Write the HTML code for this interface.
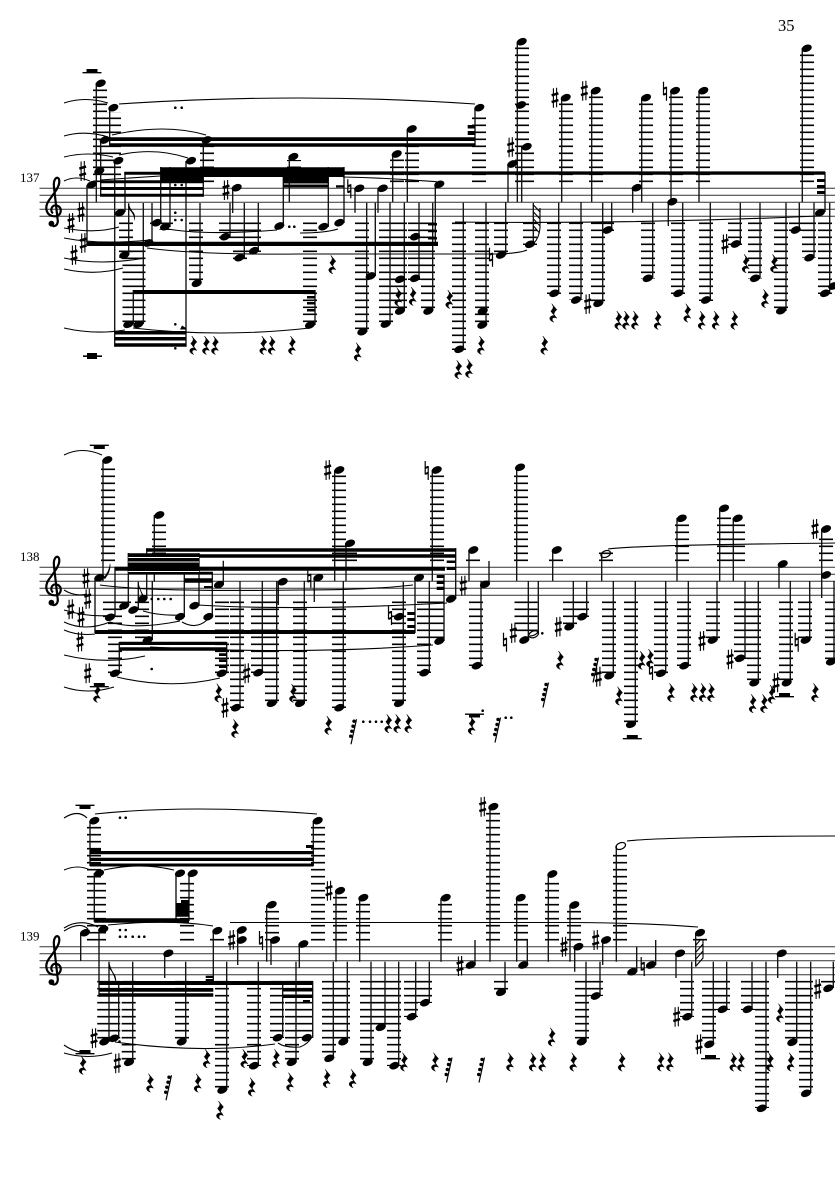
<!DOCTYPE html>
<html><head><meta charset="utf-8"><style>
html,body{margin:0;padding:0;background:#fff}
svg{display:block}
.st{stroke:#333;stroke-width:1;fill:none}
.s{stroke:#111;stroke-width:1.35;fill:none}
.l{stroke:#000;stroke-width:14;stroke-dasharray:1.6 5.4;fill:none}
.w{stroke:#000;stroke-width:23;stroke-dasharray:1.6 5.4;fill:none}
.c{stroke:#000;stroke-width:1.1;fill:none}
text{font-family:"Liberation Serif",serif;fill:#000}
</style></head><body>
<svg width="835" height="1181" viewBox="0 0 835 1181" xmlns="http://www.w3.org/2000/svg">
<defs>
<ellipse id="n" cx="0" cy="0" rx="5.3" ry="3.5" transform="rotate(-22)"/>
<g id="h"><ellipse cx="0" cy="0" rx="5" ry="3.2" transform="rotate(-22)" fill="none" stroke="#000" stroke-width="1.2"/></g>
<path id="r" stroke="#000" stroke-width=".5" d="M-1.5-9L3.5-3Q1-1 .5 1.5L3.5 5.5Q0 4-1 6Q-1.5 8 .5 9.5Q-4 8-3.5 5Q-2 2.5 1 3L-2.5-1.5Q0-4 0-6Z"/>
<g id="x" stroke="#000" fill="none"><path d="M-1.6-9.5V10M1.6-10V9.5" stroke-width="1.1"/><path d="M-3.4-2.4L3.4-4.4M-3.4 4.4L3.4 2.4" stroke-width="2.5"/></g>
<g id="t" stroke="#000" fill="none"><path d="M-1.5-9V4.5M1.5-4V10" stroke-width="1.2"/><path d="M-1.5-2L1.5-3.2M-1.5 4L1.5 2.8" stroke-width="2"/></g>
<g id="q"><path d="M3.5-12.5L-2 12.5" stroke="#000" stroke-width="1.2" fill="none"/><circle cx="1" cy="-10.5" r="1.7"/><circle cx="0" cy="-5.5" r="1.7"/><circle cx="-1.2" cy="-.5" r="1.7"/><circle cx="-2.3" cy="4.5" r="1.7"/></g>
<g id="c"><path d="M-3 15C0 19 5 16 3.5 9L0-22C-1-30 3-34 5-30C7-24 0-16-5-9C-10-2-8 7 1 7C8 7 9-3 2-4C-3-4-4 2-1 4" fill="none" stroke="#000" stroke-width="2.2"/><circle cx="-2.6" cy="14.4" r="2.9"/></g>
<path id="v" d="M-9.5 0H9.5V1.4H-9.5ZM-5.5-3H5.5V0H-5.5Z"/>
</defs>
<rect width="835" height="1181" fill="#fff"/>
<text x="778" y="31" font-size="16.5">35</text>
<text x="20" y="182" font-size="13">137</text>
<text x="20" y="561" font-size="13">138</text>
<text x="20" y="940.5" font-size="13">139</text>

<path class="st" d="M39.5 188.3H835M39.5 195.3H835M39.5 202.3H835M39.5 209.3H835M39.5 216.3H835M39.5 567.3H835M39.5 574.3H835M39.5 581.3H835M39.5 588.3H835M39.5 595.3H835M39.5 946.7H835M39.5 953.7H835M39.5 960.7H835M39.5 967.7H835M39.5 974.7H835"/>
<use href="#c" x="54" y="209.3"/><use href="#c" x="54" y="588.3"/><use href="#c" x="54" y="967.7"/>

<!-- STAFF 1 -->
<path class="l" d="M100 182.1V88M114 182.1V112M207 182.1V145M294 182.1V160M397 182.1V158M412 182.1V134M479 182.1V113M522 182.1V47M527 182.1V150M566 182.1V102M596 182.1V95M646 182.1V102M676 182.1V95M703 182.1V95M807 182.1V53"/>
<path class="l" d="M126 222.5V258M157 222.5V228M166 222.5V230M196 222.5V284M226 222.5V240M240 222.5V260M254 222.5V252M310 222.5V325M362 222.5V332M386 222.5V325M400 222.5V312M415 222.5V280M428 222.5V312M459 222.5V350M482 222.5V326M501 222.5V256M530 222.5V245M554 222.5V294M576 222.5V300M598 222.5V304M607 222.5V231M648 222.5V279M678 222.5V294M706 222.5V301M735 222.5V245M755 222.5V279M781 222.5V311M796 222.5V231M809 222.5V258M825 222.5V294"/>
<path class="w" d="M134 250.5V325"/>
<path class="s" d="M96.3 83V202.3M109.7 108V146M100.7 140V196M114.7 161V346.7M87 185V245M125 212V172M128.7 255V203.3M133.3 324V290M143.3 324V203M152 243V203M160.7 223V167M170 227V167M186 161V346.7M200 283V203M203.3 140V196.7M230 237V203M232.7 188V213M244.3 258V203M258.3 251V203M283.3 226V177M289.3 157V202.3M315 325V290M328.3 227V167M344 223V167M355 188V212.7M378 188V212.7M375.3 276V202.7M366.7 332V202.7M390 324V202.7M392.7 154V202M407.3 129V202M404.3 311V202.7M419 278V202.7M432.7 311V202.7M435.3 184V246M475 108V146.7M517.3 42V202M521.7 147V202M508 164V202M561.7 98V202M463.3 349V202.7M486 325V202.7M505.7 255V202M533.3 244V203M558.7 293V202.7M581 300V202M591.7 91V202M602.7 303V202.7M611.7 230V202.7M632.7 188V212.7M641.7 98V202M652.7 278V202.7M668.3 202V226M671 91V202M682.7 293V202.7M699 91V202M710.3 300V202.7M740.3 244V202.7M760 278V202.7M786 311V202.7M799.3 230V202.7M802.3 48V202M814 258V202.7M825 172V212M829.7 293V202.7"/>
<path d="M100 180.3H203.3V183.3H100ZM100 187H203.3V190H100ZM100 193.7H203.3V196.7H100ZM124.3 171.7H160.7V174.7H124.3ZM160.7 167.3H344.3V177H160.7ZM160.7 177H203V180.3H160.7ZM283 177H328.3V180H283ZM283 180H328.3V183.5H283ZM283 184.5H328.3V187.5H283ZM336 185.3H344.3V187.5H336ZM87 241.8H438V246H87ZM428 223H437V225.5H428ZM428 229.7H437V232.2H428ZM428 237H437V239.5H428ZM133.3 290H315V294H133.3ZM307 296H315V298.5H307ZM307 302H315V304.5H307ZM307 309H315V311.5H307ZM109.7 137.3H475V141H109.7ZM109.7 143.3H475V146.7H109.7ZM467.7 125H475V128.5H467.7ZM467.7 131H475V135H467.7ZM344 171.4H825V174.8H344ZM817 179H825V182H817ZM817 185H825V188H817ZM817 191H825V194H817ZM114.7 331H186V334.5H114.7ZM114.7 337H186V340.5H114.7ZM114.7 343.3H186V346.7H114.7ZM180 329.5L182 325.5L186 328V329.5Z"/>
<path d="M128.7 203.3Q130 209 134 213Q136 217 134 221Q135 215 128.7 209Z"/>
<use href="#v" x="92" y="72"/>
<path d="M87 353H97V359H87ZM83 355.4H102V357H83Z"/>
<g>
<use href="#n" x="100.7" y="83.3"/><use href="#n" x="113.3" y="107.7"/><use href="#n" x="104.7" y="140"/><use href="#n" x="118.3" y="160.7"/><use href="#n" x="99.3" y="171"/><use href="#n" x="91.7" y="184.7"/><use href="#n" x="120" y="212.7"/><use href="#n" x="124.3" y="255"/><use href="#n" x="128.3" y="324.3"/><use href="#n" x="138.3" y="324.3"/><use href="#n" x="148.3" y="243"/><use href="#n" x="156.7" y="222.7"/><use href="#n" x="165" y="226.7"/><use href="#n" x="191" y="160.7"/><use href="#n" x="196.7" y="283.3"/><use href="#n" x="206.7" y="140"/><use href="#n" x="225" y="236.7"/><use href="#n" x="236.7" y="187.7"/><use href="#n" x="239.3" y="257.7"/><use href="#n" x="254" y="250.7"/><use href="#n" x="279.3" y="226"/><use href="#n" x="293.3" y="156.7"/><use href="#n" x="310" y="325"/><use href="#n" x="323.3" y="226.7"/><use href="#n" x="339.3" y="222.7"/><use href="#n" x="359.3" y="188.3"/><use href="#n" x="382.7" y="188.3"/><use href="#n" x="370.7" y="276"/><use href="#n" x="362.3" y="331.7"/><use href="#n" x="385.7" y="324"/><use href="#n" x="396.7" y="154"/><use href="#n" x="411.7" y="129"/><use href="#n" x="400" y="279.3"/><use href="#n" x="400" y="311"/><use href="#n" x="415" y="236.7"/><use href="#n" x="415" y="278.3"/><use href="#n" x="428.3" y="311"/><use href="#n" x="439.3" y="184.3"/><use href="#n" x="479.3" y="107.7"/><use href="#n" x="521.7" y="41.7"/><use href="#n" x="521" y="105"/><use href="#n" x="526.7" y="146.7"/><use href="#n" x="512.3" y="164"/><use href="#n" x="565.7" y="97.7"/><use href="#n" x="459.3" y="349.3"/><use href="#n" x="482.7" y="311"/><use href="#n" x="482.3" y="325"/><use href="#n" x="501" y="255"/><use href="#n" x="530" y="244.3"/><use href="#n" x="554.3" y="293.3"/><use href="#n" x="576" y="300"/><use href="#n" x="595.7" y="90.7"/><use href="#n" x="598.3" y="303.3"/><use href="#n" x="607.7" y="230"/><use href="#n" x="636.7" y="187.7"/><use href="#n" x="646" y="97.7"/><use href="#n" x="647.7" y="278.3"/><use href="#n" x="672.3" y="201.7"/><use href="#n" x="675" y="90.7"/><use href="#n" x="678.3" y="293.3"/><use href="#n" x="703.3" y="90.7"/><use href="#n" x="706" y="300"/><use href="#n" x="735.7" y="244"/><use href="#n" x="755" y="278.3"/><use href="#n" x="781" y="310.7"/><use href="#n" x="795.7" y="230"/><use href="#n" x="806.7" y="48.3"/><use href="#n" x="809.3" y="257.7"/><use href="#n" x="820" y="212.7"/><use href="#n" x="825" y="293.3"/><use href="#n" x="833.3" y="286"/>
</g>
<g>
<use href="#x" x="82.7" y="171"/><use href="#x" x="81" y="212"/><use href="#x" x="71" y="223"/><use href="#x" x="83.3" y="243"/><use href="#x" x="74" y="255"/><use href="#x" x="226" y="190"/><use href="#x" x="510.7" y="147.3"/><use href="#x" x="555" y="97.7"/><use href="#x" x="584.3" y="90.7"/><use href="#x" x="587.7" y="304"/><use href="#x" x="725" y="244"/>
<use href="#t" x="349.3" y="188.3"/><use href="#t" x="491" y="256.7"/><use href="#t" x="665" y="90.7"/>
</g>
<g>
<use href="#r" x="193.3" y="345"/><use href="#r" x="206" y="345"/><use href="#r" x="215" y="345"/><use href="#r" x="263.3" y="345"/><use href="#r" x="271.7" y="345"/><use href="#r" x="292" y="345"/><use href="#r" x="332.3" y="264.3"/><use href="#r" x="357.7" y="351.7"/><use href="#r" x="398.3" y="296.7"/><use href="#r" x="412.7" y="296"/><use href="#r" x="449.3" y="299"/><use href="#r" x="458.3" y="369.3"/><use href="#r" x="469" y="368.3"/><use href="#r" x="481" y="345"/><use href="#r" x="544.3" y="345"/><use href="#r" x="553.3" y="312.7"/><use href="#r" x="618.3" y="320"/><use href="#r" x="626" y="320"/><use href="#r" x="635" y="320"/><use href="#r" x="657.7" y="320"/><use href="#r" x="687.3" y="312.7"/><use href="#r" x="701.7" y="320"/><use href="#r" x="715.7" y="320"/><use href="#r" x="734.3" y="320"/><use href="#r" x="745.7" y="263.3"/><use href="#r" x="774" y="263.3"/><use href="#r" x="765" y="298.3"/>
</g>
<g>
<circle cx="175.3" cy="107.7" r="1.3"/><circle cx="181.7" cy="107.7" r="1.3"/><circle cx="175.3" cy="185" r="1.3"/><circle cx="181.7" cy="185" r="1.3"/><circle cx="175.3" cy="212.7" r="1.3"/><circle cx="175.3" cy="220" r="1.3"/><circle cx="181.7" cy="220" r="1.3"/><circle cx="175.3" cy="324.3" r="1.3"/><circle cx="175.3" cy="348.3" r="1.3"/><circle cx="289.3" cy="226.7" r="1.3"/><circle cx="294.3" cy="226.7" r="1.3"/>
</g>
<path class="c" d="M64 103Q85 96 108 103M64 136Q85 130 108 137M112 135Q165 123 206 135M64 157Q88 151 113 157M119 155Q155 147 188 158M64 181Q76 175 90 181M64 228Q95 234 119 227M64 238Q100 245 150 240M64 258Q100 266 145 258M64 269Q95 276 123 268M64 328Q95 335 125 330M133 328Q220 338 310 328M119 104Q300 92 475 104M343 177Q390 178 436.7 181.7M455 222Q640 224 818 216M163 228Q200 236 277 230M300 233Q325 233 338 229M147 248Q200 255 300 254L500 254Q520 253 527 250M100 180Q130 178 160 176"/>
<path class="c" stroke-width=".9" d="M533.5 205L540 212M533.5 212L540 219M533.5 219L540 226M533.5 226L539.5 233M540 208V228Q539 238 534 243"/>

<!-- STAFF 2 -->
<path class="l" d="M108 561.1V466M159 561.1V520M339 561.1V475M350 561.1V548M437 561.1V475M473 561.1V555M521 561.1V472M556 561.1V555M606 561.1V552M682 561.1V523M724 561.1V513M738 561.1V523M826 561.1V534"/>
<path class="l" d="M115 601.5V674M110 601.5V618M124 601.5V606M142 601.5V640M222 601.5V674M237 601.5V708M258 601.5V673M272 601.5V704M300 601.5V704M339 601.5V708M399 601.5V704M424 601.5V673M437 601.5V642M476 601.5V666M570 601.5V627M582 601.5V617M609 601.5V676M631 601.5V725M661 601.5V674M684 601.5V666M713 601.5V640M741 601.5V659M754 601.5V683M786 601.5V683M805 601.5V640M832 601.5V662"/>
<path class="w" d="M526 601.5V634"/>
<path class="s" d="M103 460V581M95 578V633M115 617V566.7M128.3 606V553M138.3 610V581.7M146.7 599V548.3M152.3 640V581M154.3 515V581.7M184.3 617V571.7M199 606V553M212.3 617V571.7M223.3 585V560.7M119.3 673V642M226.7 673V642M240 708V581M262.3 673V581M276.7 703V581M278.3 582V605M304.3 703V581M314.3 578V602M334.7 470V581M346 543V581M343.3 708V581M403.3 703V581.7M415 578V633M429.3 673V581M432.3 470V581M444 641V575M455.7 599V548M469 550V581M489 584V561M481 666V581M516.7 467V581M528.3 640V581M538.3 634V581M552.7 550V581M573.3 627V581M586.7 617V581M601.7 554V581M613.3 676V581M635.3 724V581M665.7 673V581M677 518V581M688.3 666V581M717 640V581M719.7 508V581M733.3 518V581M745 658V581M758.3 683V581M779 564V588M790.3 683V581M809.7 640V581M821.7 529V598M834 662V581"/>
<path d="M146.7 548.3H455.7V551.7H146.7ZM128.3 553.3H199V574.3H128.3ZM199 554.3H455.7V557.7H199ZM115 566.7H445V570.7H115ZM184.3 571.7H212.3V574.3H184.3ZM184.3 578.3H212.3V582.7H184.3ZM204 586H212.3V588H204ZM95 630H415V634H95ZM119.3 641.7H226.7V645H119.3ZM119.3 647.3H226.7V650.7H119.3ZM219 653.3H226.7V656H219ZM219 659.3H226.7V662H219ZM219 665.3H226.7V668H219ZM436.7 575H444.3V578H436.7ZM436.7 580.7H444.3V584H436.7ZM436.7 586.7H444.3V590H436.7ZM446.7 560.5H455.7V563H446.7ZM446.7 567H455.7V570H446.7ZM407.3 612H415V615H407.3ZM407.3 618H415V621H407.3ZM407.3 625H415V628H407.3Z"/>
<path d="M103 578Q109 572 110 563Q112 570 105 579ZM138.3 581.7Q140 590 144 596L142.5 597Q140 590 138.3 586Z"/>
<rect x="128.3" y="557" width="70.7" height="1" fill="#fff"/><rect x="128.3" y="561.5" width="70.7" height="1" fill="#fff"/><rect x="128.3" y="571" width="70.7" height="1" fill="#fff"/>
<use href="#v" x="99.3" y="449" transform="matrix(1 0 0 -1 0 895)"/>
<use href="#v" x="99.3" y="686"/>
<use href="#v" x="632.3" y="738"/><use href="#v" x="784.5" y="696"/>
<path d="M465 713.5H484V714.9H465ZM469 714.9H480V717.5H469Z"/>
<g>
<use href="#n" x="107.3" y="460"/><use href="#n" x="99.3" y="577.7"/><use href="#n" x="110" y="617.3"/><use href="#n" x="124.3" y="605.7"/><use href="#n" x="133.3" y="610"/><use href="#n" x="142.7" y="598.7"/><use href="#n" x="147.7" y="640"/><use href="#n" x="159.3" y="515"/><use href="#n" x="180" y="616.7"/><use href="#n" x="194.3" y="605.7"/><use href="#n" x="208.3" y="616.7"/><use href="#n" x="219" y="584.7"/><use href="#n" x="115" y="673.3"/><use href="#n" x="221.7" y="673.3"/><use href="#n" x="236" y="707.7"/><use href="#n" x="258.3" y="672.7"/><use href="#n" x="271.7" y="703.3"/><use href="#n" x="282.7" y="581.7"/><use href="#n" x="300" y="703.3"/><use href="#n" x="339.3" y="470"/><use href="#n" x="350" y="543.3"/><use href="#n" x="339.3" y="707.7"/><use href="#n" x="318.3" y="577.7"/><use href="#n" x="399" y="616.7"/><use href="#n" x="399" y="703.3"/><use href="#n" x="419" y="577.7"/><use href="#n" x="424.3" y="672.7"/><use href="#n" x="436.7" y="470"/><use href="#n" x="439.3" y="641"/><use href="#n" x="451" y="599"/><use href="#n" x="473.3" y="550"/><use href="#n" x="485" y="584.3"/><use href="#n" x="476.7" y="665.7"/><use href="#n" x="520" y="467.3"/><use href="#n" x="524.3" y="640"/><use href="#n" x="556.7" y="550"/><use href="#n" x="569.3" y="626.7"/><use href="#n" x="582.3" y="616.7"/><use href="#n" x="609.3" y="675.7"/><use href="#n" x="631" y="724.3"/><use href="#n" x="661" y="673.3"/><use href="#n" x="684.3" y="665.7"/><use href="#n" x="681.7" y="518.3"/><use href="#n" x="724" y="508.3"/><use href="#n" x="737.7" y="518.3"/><use href="#n" x="712.7" y="640"/><use href="#n" x="740" y="658.3"/><use href="#n" x="754.3" y="682.7"/><use href="#n" x="782.7" y="564"/><use href="#n" x="786.7" y="682.7"/><use href="#n" x="805.7" y="640"/><use href="#n" x="826" y="529"/><use href="#n" x="826" y="575"/><use href="#n" x="831" y="661.7"/>
<use href="#h" x="533.7" y="634.3"/><use href="#h" x="605.7" y="554"/>
</g>
<g>
<use href="#x" x="86" y="578.3"/><use href="#x" x="87.7" y="599"/><use href="#x" x="70.7" y="609.3"/><use href="#x" x="81" y="616.7"/><use href="#x" x="80" y="641.7"/><use href="#x" x="87.7" y="673.3"/><use href="#x" x="225" y="707.7"/><use href="#x" x="246.7" y="673.3"/><use href="#x" x="327.7" y="470"/><use href="#x" x="463.3" y="585.7"/><use href="#x" x="513.3" y="633"/><use href="#x" x="558.3" y="626.7"/><use href="#x" x="598.3" y="676.7"/><use href="#x" x="702" y="641"/><use href="#x" x="730" y="659.3"/><use href="#x" x="776" y="682.7"/><use href="#x" x="815" y="529"/>
<use href="#t" x="309.3" y="577.7"/><use href="#t" x="390" y="615"/><use href="#t" x="426.7" y="470"/><use href="#t" x="505" y="641.7"/><use href="#t" x="651" y="670"/><use href="#t" x="796.7" y="641.7"/>
</g>
<g>
<use href="#r" x="97" y="693"/><use href="#r" x="218.3" y="692.7"/><use href="#r" x="235" y="728.3"/><use href="#r" x="293" y="693"/><use href="#r" x="328.3" y="725"/><use href="#r" x="388.3" y="723.3"/><use href="#r" x="397.3" y="723.3"/><use href="#r" x="408.3" y="723.3"/><use href="#r" x="471.7" y="725"/><use href="#r" x="560" y="660"/><use href="#r" x="619" y="695.7"/><use href="#r" x="641.7" y="660"/><use href="#r" x="650" y="658"/><use href="#r" x="671" y="692.3"/><use href="#r" x="694" y="692.3"/><use href="#r" x="702.7" y="692.3"/><use href="#r" x="711" y="692.3"/><use href="#r" x="752.7" y="703.3"/><use href="#r" x="764" y="703.3"/><use href="#r" x="771.7" y="694"/><use href="#r" x="815" y="692.3"/>
<use href="#q" x="353" y="731.7"/><use href="#q" x="497" y="730"/><use href="#q" x="545" y="695"/><use href="#q" x="595" y="670"/>
</g>
<g>
<circle cx="151.7" cy="599" r="1.3"/><circle cx="158.3" cy="599" r="1.3"/><circle cx="164.3" cy="599" r="1.3"/><circle cx="170.7" cy="599" r="1.3"/><circle cx="151.7" cy="669" r="1.3"/><circle cx="363.3" cy="721.7" r="1.3"/><circle cx="370" cy="721.7" r="1.3"/><circle cx="376" cy="721.7" r="1.3"/><circle cx="381.7" cy="721.7" r="1.3"/><circle cx="482.7" cy="710.7" r="1.3"/><circle cx="505.7" cy="717.7" r="1.3"/><circle cx="511.3" cy="717.7" r="1.3"/><circle cx="542.3" cy="633.3" r="1.3"/>
</g>
<path class="c" d="M64 455Q82 446 102 455M64 590Q75 597 87 594M64 610Q90 618 115 615M64 622Q85 632 110 622M64 630Q78 636 95 634M64 655Q105 665 145 656M64 687Q88 695 114 687M117 677Q170 690 220 678M182 622Q196 630 207 620M100 585Q150 592 300 590Q370 590 413 585M143 611Q160 616 180 615M198 605Q300 611 447 603M150 647Q300 655 433 645M110 622Q135 630 180 621M530 636Q535 636 538 632M608 549C640 545 760 544 835 543"/>

<!-- STAFF 3 -->
<path class="l" d="M94 940.5V826M99 940.5V878M217 940.5V936M187 940.5V878M318 940.5V826M340 940.5V896M363 940.5V903M445 940.5V903M493 940.5V812M521 940.5V903M552 940.5V879M574 940.5V910M620 940.5V851M700 940.5V937M272 940.5V910"/>
<path class="l" d="M128.7 980.9V1062M182 980.9V1042M222 980.9V1090M254 980.9V1066M277 980.9V1038M292 980.9V1062M306 980.9V1038M329 980.9V1058M343 980.9V1042M367 980.9V1062M381 980.9V1028M394 980.9V1066M411 980.9V1017M425 980.9V1003M501 980.9V992M582 980.9V1042M596 980.9V996M687 980.9V1017M709 980.9V1044M723 980.9V1010M748 980.9V1010M762 980.9V1108M792 980.9V1042M806 980.9V1093M828 980.9V988"/>
<path class="w" d="M108.7 980.9V1040"/>
<path class="s" d="M90 821V866M94.3 873V921.7M80.7 933V961M99 929V996.7M164.7 953V978M176 873V921M189 873V921M109 1042V961.7M118.7 1038V981M132.7 1062V961.7M185.7 1042V961.7M213.3 931V981M226.7 1090V961.7M237.7 930V965M258.3 1066V961.7M266.7 905V961.7M271 940V965M282.7 1038V981M296 1062V961.7M299.3 944V968M313.3 821V866M312.7 1038V981M336 891V961.7M359.7 898V961.7M333.3 1058V961.7M347.3 1042V961.7M371 1062V961.7M385 1027V961.7M398.7 1066V961.7M415.7 1017V961.7M429.3 1003V961.7M441 898V961.7M475 965V940M490 807V961.7M505 992V961.7M516.7 898V961.7M527.3 965V940H516.7M548.3 874V961.7M570 905V961.7M574.7 947V971.7M586 1042V961.7M600 996V961.7M602.7 940V965M616.3 846V961.7M636.7 972V946.7M655.7 965V940M676 953V978M691.7 1017V961.7M695.7 933V966.7M713.3 1044V961.7M726.7 1009V961.7M752 1009V961.7M766 1108V961.7M777.7 953V978M796.7 1042V961.7M810.7 1093V961.7M833.3 988V961.7"/>
<path d="M90 851H313.3V854.3H90ZM90 857.7H313.3V861H90ZM90 863.5H313.3V866.5H90ZM306 845H313.3V848H306ZM90 848H101V851H90ZM94.3 918.3H189V922.7H94.3ZM176 903H189V916.7H176ZM181 900H189V903H181ZM99 988H213.3V991.7H99ZM99 993.3H213.3V996.7H99ZM99 981.5H117V985H99ZM117 981H312.7V985H117ZM283 988H312.7V991.5H283ZM283 994.5H312.7V998H283ZM303 1000H310V1002.5H303ZM205.7 975.7H213V978H205.7ZM205.7 979H213V981H205.7Z"/>
<path d="M109 961.7Q111 970 115 975Q117 980 115.5 984Q115.5 976 109 968Z"/>
<use href="#v" x="85" y="809" transform="matrix(1 0 0 -1 0 1615)"/>
<use href="#v" x="85" y="1053"/>
<use href="#v" x="710.5" y="1058"/>
<g>
<use href="#n" x="94.3" y="820.7"/><use href="#n" x="99" y="873.3"/><use href="#n" x="85" y="932.7"/><use href="#n" x="103.3" y="929.3"/><use href="#n" x="168.3" y="953.3"/><use href="#n" x="180" y="873.3"/><use href="#n" x="192.7" y="873.3"/><use href="#n" x="104.3" y="1041.7"/><use href="#n" x="114" y="1038.3"/><use href="#n" x="129" y="1062.3"/><use href="#n" x="181.7" y="1041.7"/><use href="#n" x="217.3" y="930.7"/><use href="#n" x="222.3" y="1090"/><use href="#n" x="241.7" y="930"/><use href="#n" x="241.7" y="940"/><use href="#n" x="254" y="1065.7"/><use href="#n" x="271.7" y="904.7"/><use href="#n" x="275" y="940"/><use href="#n" x="277.7" y="1037.7"/><use href="#n" x="291.7" y="1062.3"/><use href="#n" x="303.3" y="944"/><use href="#n" x="317.7" y="820.7"/><use href="#n" x="306.7" y="1037.7"/><use href="#n" x="340" y="890.7"/><use href="#n" x="363.3" y="897.7"/><use href="#n" x="329.3" y="1058.3"/><use href="#n" x="343.3" y="1041.7"/><use href="#n" x="367.7" y="1062.3"/><use href="#n" x="380.7" y="1027.3"/><use href="#n" x="394.3" y="1065.7"/><use href="#n" x="411.7" y="1016.7"/><use href="#n" x="425" y="1002.7"/><use href="#n" x="445.7" y="897.7"/><use href="#n" x="470.7" y="965"/><use href="#n" x="493.3" y="806.7"/><use href="#n" x="501" y="992.3"/><use href="#n" x="520.7" y="897.7"/><use href="#n" x="523.3" y="965"/><use href="#n" x="552.3" y="874"/><use href="#n" x="574.3" y="905"/><use href="#n" x="578.3" y="946.7"/><use href="#n" x="581.7" y="1041.7"/><use href="#n" x="595.7" y="996"/><use href="#n" x="606" y="940"/><use href="#n" x="632.3" y="971.7"/><use href="#n" x="651" y="965"/><use href="#n" x="680" y="953.3"/><use href="#n" x="687.3" y="1016.7"/><use href="#n" x="700" y="932.7"/><use href="#n" x="709.3" y="1044.3"/><use href="#n" x="722.7" y="1009.3"/><use href="#n" x="747.7" y="1009.3"/><use href="#n" x="761.7" y="1108.3"/><use href="#n" x="781.7" y="953.3"/><use href="#n" x="792.3" y="1042.3"/><use href="#n" x="806" y="1093.3"/><use href="#n" x="828.3" y="988.3"/>
<use href="#h" x="620.7" y="846"/>
</g>
<g>
<use href="#x" x="94" y="1038.3"/><use href="#x" x="117.3" y="1063.3"/><use href="#x" x="231.7" y="940"/><use href="#x" x="329" y="890.7"/><use href="#x" x="460" y="966"/><use href="#x" x="482.7" y="806.7"/><use href="#x" x="564" y="946.7"/><use href="#x" x="595.7" y="940"/><use href="#x" x="676.7" y="1016.7"/><use href="#x" x="699" y="1044.3"/><use href="#x" x="817.7" y="989"/>
<use href="#t" x="261" y="940"/><use href="#t" x="642.7" y="966"/>
</g>
<g>
<use href="#r" x="82.7" y="1065"/><use href="#r" x="150" y="1082.7"/><use href="#r" x="197.7" y="1082.7"/><use href="#r" x="206.7" y="1058.3"/><use href="#r" x="220" y="1110"/><use href="#r" x="244.3" y="1058.3"/><use href="#r" x="251.7" y="1086.7"/><use href="#r" x="276" y="1058.3"/><use href="#r" x="290" y="1081.7"/><use href="#r" x="326.7" y="1078.3"/><use href="#r" x="352.7" y="1078.3"/><use href="#r" x="404" y="1061.7"/><use href="#r" x="435" y="1061.7"/><use href="#r" x="510" y="1061.7"/><use href="#r" x="532.7" y="1061.7"/><use href="#r" x="542.3" y="1061.7"/><use href="#r" x="551.7" y="1036.7"/><use href="#r" x="573.3" y="1061.7"/><use href="#r" x="621.7" y="1061.7"/><use href="#r" x="660.7" y="1061.7"/><use href="#r" x="670" y="1061.7"/><use href="#r" x="733.3" y="1061.7"/><use href="#r" x="741" y="1061.7"/><use href="#r" x="770" y="1061.7"/><use href="#r" x="790.7" y="1061.7"/><use href="#r" x="780" y="1012.7"/>
<use href="#q" x="168" y="1087.7"/><use href="#q" x="448.5" y="1070"/><use href="#q" x="481" y="1070"/>
</g>
<g>
<circle cx="120" cy="817.7" r="1.3"/><circle cx="125.7" cy="817.7" r="1.3"/><circle cx="120" cy="930" r="1.3"/><circle cx="125.7" cy="930" r="1.3"/><circle cx="120" cy="936.7" r="1.3"/><circle cx="125.7" cy="936.7" r="1.3"/><circle cx="132.7" cy="936.7" r="1.3"/><circle cx="139" cy="936.7" r="1.3"/><circle cx="144.3" cy="936.7" r="1.3"/><circle cx="119.5" cy="1041.5" r="1.3"/>
</g>
<path class="c" d="M64 818Q78 809 87 818M95 814Q190 804 317 814M64 870Q78 864 90 870M104 870Q140 862 174 870M64 928Q80 918 98 927M64 931Q80 921 88 929M108 925Q170 919 213 926M230 922.5L570 922.5Q650 923 698 927M64 1045Q75 1053 90 1053M64 1053Q88 1060 112 1053M115 1042Q200 1054 275 1044M278 1043Q285 1048 300 1047Q308 1044 312 1037M627 841C650 838 760 836 835 836"/>
<path class="c" stroke-width=".9" d="M696 966L703 958M696 959L703 951M696 952L703 944M696 945L701 939M703 940V958L696 966"/>
</svg>
</body></html>
